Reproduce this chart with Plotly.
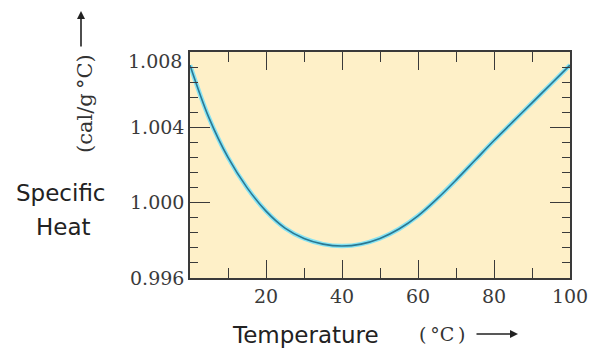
import plotly.graph_objects as go

# Data
temperature = [0, 5, 10, 15, 20, 25, 30, 35, 40, 45, 50, 55, 60, 65, 70, 75, 80, 85, 90, 95, 100]
specific_heat = [1.00730, 1.00450, 1.00240, 1.00080, 0.99955, 0.99865, 0.99810, 0.99780, 0.99770,
                 0.99780, 0.99810, 0.99860, 0.99930, 1.00020, 1.00120, 1.00225, 1.00330,
                 1.00430, 1.00530, 1.00630, 1.00730]
x_tickvals = [20, 40, 60, 80, 100]
x_ticktext = ["20", "40", "60", "80", "100"]
y_tickvals = [0.996, 1.000, 1.004, 1.008]
y_ticktext = ["0.996", "1.000", "1.004", ""]
top_label = "1.008"

L, R, T, B = 190, 22, 52, 70
W, H = 592, 348
pw, ph = W - L - R, H - T - B


def px(x):
    return (x - L) / pw


def py(y):
    return (H - B - y) / ph


fig = go.Figure()
fig.add_trace(go.Scatter(x=temperature, y=specific_heat, mode="lines",
                         line=dict(color="#86e3f3", width=4.5, shape="spline", smoothing=1.0),
                         hoverinfo="skip", showlegend=False))
fig.add_trace(go.Scatter(x=temperature, y=specific_heat, mode="lines",
                         line=dict(color="#2a7893", width=1.6, shape="spline", smoothing=1.0),
                         showlegend=False))

axis_common = dict(showline=True, linecolor="#3a3a3a", linewidth=1.5, mirror="ticks",
                   ticks="inside", tickcolor="#3a3a3a", tickwidth=1.3, showgrid=False,
                   zeroline=False, automargin=False,
                   tickfont=dict(family="DejaVu Serif", size=19, color="#3a3a3a"))

fig.update_xaxes(range=[0, 100], tickvals=x_tickvals, ticktext=x_ticktext, ticklen=18,
                 minor=dict(ticks="inside", ticklen=10, dtick=10, tick0=0, tickcolor="#3a3a3a",
                            tickwidth=1.3, showgrid=False),
                 **axis_common)
fig.update_yaxes(range=[0.996, 1.008], tickvals=y_tickvals, ticktext=y_ticktext, ticklen=20,
                 minor=dict(ticks="inside", ticklen=8, dtick=0.0008, tick0=0.996,
                            tickcolor="#3a3a3a", tickwidth=1.3, showgrid=False),
                 **axis_common)

ann = []
# top y tick label, nudged down like the reference
ann.append(dict(x=0, y=1.008, xref="x", yref="y", text=top_label, showarrow=False,
                xanchor="right", yanchor="middle", xshift=-6, yshift=-9,
                font=dict(family="DejaVu Serif", size=19, color="#3a3a3a")))
# Specific Heat
ann.append(dict(x=px(61), y=py(193), xref="paper", yref="paper", text="Specific", showarrow=False,
                xanchor="center", yanchor="middle",
                font=dict(family="DejaVu Sans", size=23, color="#222")))
ann.append(dict(x=px(63), y=py(227), xref="paper", yref="paper", text="Heat", showarrow=False,
                xanchor="center", yanchor="middle",
                font=dict(family="DejaVu Sans", size=23, color="#222")))
# rotated units
ann.append(dict(x=px(85), y=py(103), xref="paper", yref="paper", text="(cal/g\u2009°C)",
                showarrow=False, textangle=-90, xanchor="center", yanchor="middle",
                font=dict(family="DejaVu Serif", size=21, color="#333")))
ann.append(dict(x=px(81), y=py(11), ax=0, ay=37, xref="paper", yref="paper",
                text="", showarrow=True, arrowhead=2,
                arrowsize=1, arrowwidth=1.6, arrowcolor="#222"))
# x title
ann.append(dict(x=px(305), y=py(335), xref="paper", yref="paper", text="Temperature",
                showarrow=False, xanchor="center", yanchor="middle",
                font=dict(family="DejaVu Sans", size=23, color="#222")))
ann.append(dict(x=px(442), y=py(334), xref="paper", yref="paper", text="(\u2009°C\u2009)",
                showarrow=False, xanchor="center", yanchor="middle",
                font=dict(family="DejaVu Serif", size=19, color="#333")))
ann.append(dict(x=px(518), y=py(334), ax=-43, ay=0, xref="paper", yref="paper",
                text="", showarrow=True, arrowhead=2,
                arrowsize=1, arrowwidth=1.6, arrowcolor="#222"))

fig.update_layout(width=W, height=H, margin=dict(l=L, r=R, t=T, b=B, autoexpand=False),
                  plot_bgcolor="#fef0c8", paper_bgcolor="white", annotations=ann,
                  showlegend=False)

fig.write_html("out.html", config={"displayModeBar": False},
               post_script="document.body.style.margin='0';document.body.style.overflow='hidden';")
